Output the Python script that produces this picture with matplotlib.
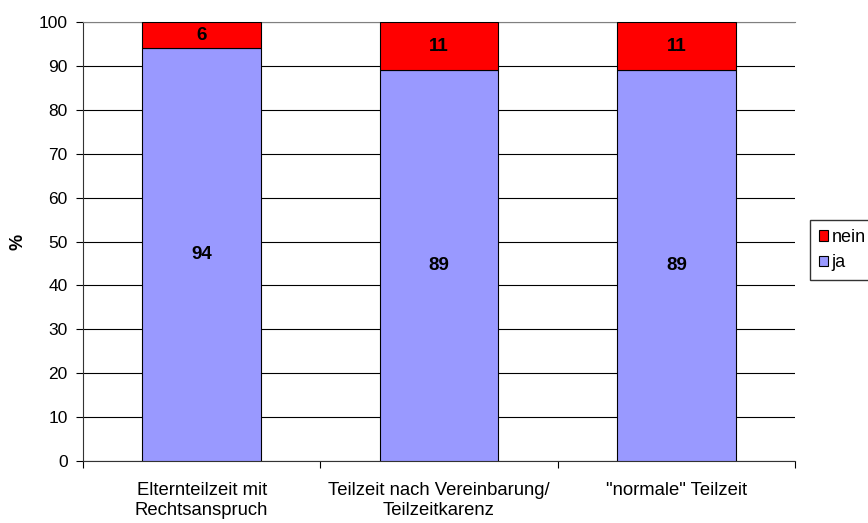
import numpy as np
import matplotlib
matplotlib.use("Agg")
import matplotlib.pyplot as plt

plt.rcParams['font.family'] = ['Liberation Sans', 'DejaVu Sans']

# ----------------------------
# Daten
# ----------------------------
categories = ["Elternteilzeit mit\nRechtsanspruch",
              "Teilzeit nach Vereinbarung/\nTeilzeitkarenz",
              "\"normale\" Teilzeit"]
ja = [94, 89, 89]
nein = [6, 11, 11]
yticks = list(range(0, 101, 10))

# ----------------------------
# Plot
# ----------------------------
fig = plt.figure(figsize=(8.68, 5.23), dpi=100)
ax = fig.add_axes([0.0956, 0.1185, 0.8204, 0.8394])

x = np.arange(len(categories))
b_ja = ax.bar(x, ja, width=0.5, color="#9999FF", edgecolor="black", linewidth=0.8, label="ja", zorder=3)
b_nein = ax.bar(x, nein, width=0.5, bottom=ja, color="#FF0000", edgecolor="black", linewidth=0.8, label="nein", zorder=3)

for i in range(len(categories)):
    ax.text(x[i], ja[i] / 2, str(ja[i]), ha="center", va="center", fontsize=13.5, fontweight="bold", zorder=4)
    ax.text(x[i], ja[i] + nein[i] / 2, str(nein[i]), ha="center", va="center", fontsize=13.5, fontweight="bold", zorder=4)

ax.set_xlim(-0.5, len(categories) - 0.5)
ax.set_ylim(0, 100)
ax.set_yticks(yticks)
ax.yaxis.grid(True, color="black", linewidth=0.8, zorder=0)
ax.set_ylabel("%", fontsize=13, fontweight="bold")
ax.yaxis.set_label_coords(-0.08, 0.5)

# Kategorie-Beschriftungen, Ticks an den Grenzen
ax.set_xticks(np.arange(len(categories) + 1) - 0.5)
ax.set_xticklabels([])
ax.set_xticks(x, minor=True)
ax.set_xticklabels(categories, minor=True, fontsize=13.3, linespacing=1.25)
ax.tick_params(axis="x", which="minor", length=0, pad=15)
ax.tick_params(axis="x", which="major", length=5, direction="out")
ax.tick_params(axis="y", length=5, direction="out", labelsize=12.5, pad=6)

ax.spines["right"].set_visible(False)
ax.spines["top"].set_color("gray")
ax.spines["left"].set_color("#333333")
ax.spines["bottom"].set_color("#333333")

handles = [b_nein, b_ja]
fig.legend(handles, ["nein", "ja"], loc="center left", bbox_to_anchor=(0.933, 0.522),
           fontsize=13, frameon=True, fancybox=False, edgecolor="black",
           handlelength=0.5, handleheight=0.5, handletextpad=0.2, borderpad=0.5,
           labelspacing=0.45, borderaxespad=0)

plt.savefig("out.png", dpi=100)
